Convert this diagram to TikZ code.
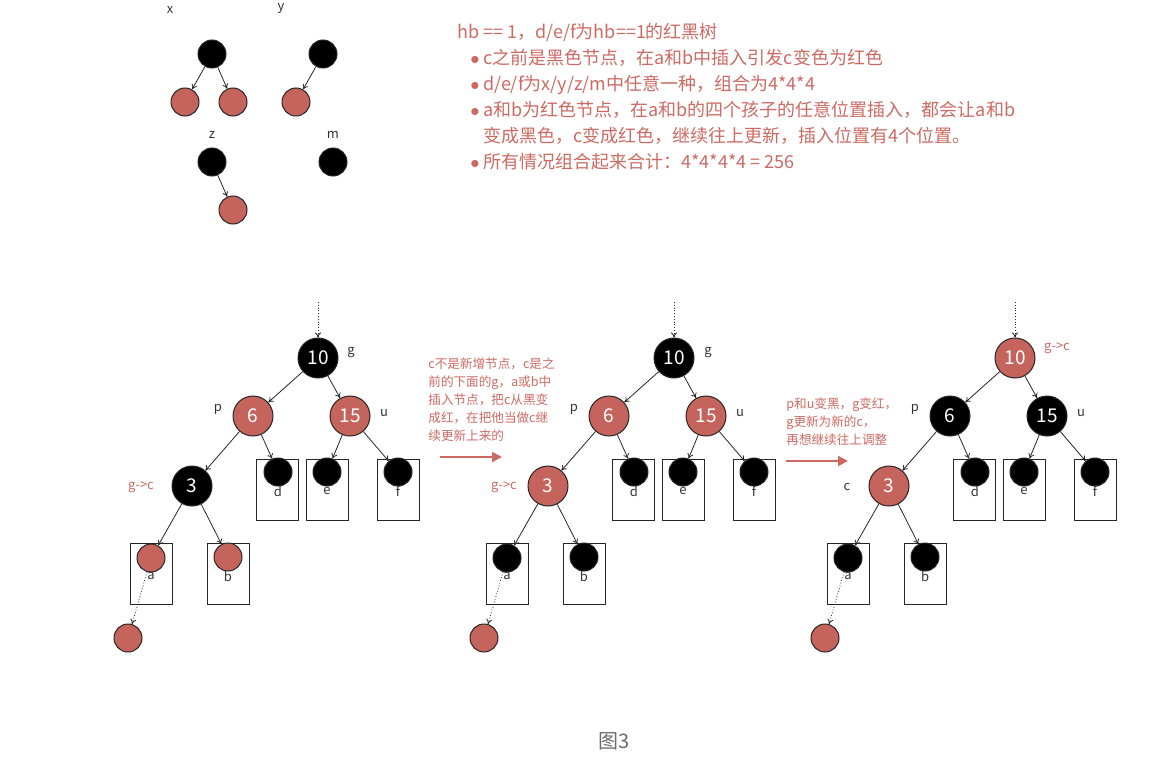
\documentclass[tikz,border=0pt]{standalone}
\usepackage{fontspec}
\setmainfont{Noto Sans CJK SC}
\usepackage{xcolor}
\usepackage{tikz}
\usetikzlibrary{positioning, arrows.meta}
\definecolor{nodered}{HTML}{C5645C}
\definecolor{notered}{HTML}{CC6A62}
\definecolor{capgray}{HTML}{6B6B6B}
\newcommand{\bulitem}{\hspace*{6.5pt}\makebox[6.5pt][l]{$\bullet$}}

\begin{document}
\begin{tikzpicture}[x=0.5pt, y=-0.5pt,
    bignode/.style={circle, draw=black!85, line width=0.5pt, minimum size=20pt, inner sep=0pt,
                    text=white, font=\fontsize{9.5}{10}\selectfont},
    leafnode/.style={circle, draw=black!85, line width=0.5pt, minimum size=14pt, inner sep=0pt},
    leafbox/.style={draw=black!85, line width=0.5pt, minimum width=21pt, minimum height=30.5pt, inner sep=0pt},
    boxtag/.style={font=\fontsize{6.5}{7}\selectfont, text=black!80, inner sep=0pt},
    sidetag/.style={font=\fontsize{6.5}{7}\selectfont, text=black!80, inner sep=0pt},
    redtag/.style={font=\fontsize{6.5}{7}\selectfont, text=notered, inner sep=0pt},
    treearrow/.style={-{To[length=2.5pt, width=3pt]}, line width=0.4pt, black!85},
    dotarrow/.style={treearrow, densely dotted},
    notearrow/.style={-{Triangle[length=5pt, width=5pt]}, line width=1pt, notered},
    notetext/.style={font=\fontsize{6.3}{9}\selectfont, text=notered, align=left, anchor=north west, inner sep=0pt}]
  \useasboundingbox (0,0) rectangle (1149,765);

  % the four small trees of hb == 1
  \node[sidetag] (xlbl) at (170,10) {x};
  \node[sidetag] (ylbl) at (281,8) {y};
  \node[sidetag] (zlbl) at (212,135) {z};
  \node[sidetag] (mlbl) at (333,135) {m};
  \node[leafnode, fill=black] (xtop) at (212,54) {};
  \node[leafnode, fill=nodered] (xleft) at (185,102) {};
  \node[leafnode, fill=nodered] (xright) at (233,102) {};
  \node[leafnode, fill=black] (ytop) at (323,54) {};
  \node[leafnode, fill=nodered] (yleft) at (296,102) {};
  \node[leafnode, fill=black] (ztop) at (212,162) {};
  \node[leafnode, fill=nodered] (zright) at (233,210) {};
  \node[leafnode, fill=black] (mtop) at (333,162) {};
  \draw[treearrow] (xtop) -- (xleft);
  \draw[treearrow] (xtop) -- (xright);
  \draw[treearrow] (ytop) -- (yleft);
  \draw[treearrow] (ztop) -- (zright);

  % notes
  \node[font=\fontsize{9}{13}\selectfont, text=notered, align=left, anchor=north west, inner sep=0pt] (hbnote) at (457,23) {%
    hb == 1，d/e/f为hb==1的红黑树\\
    \bulitem c之前是黑色节点，在a和b中插入引发c变色为红色\\
    \bulitem d/e/f为x/y/z/m中任意一种，组合为4*4*4\\
    \bulitem a和b为红色节点，在a和b的四个孩子的任意位置插入，都会让a和b\\
    \hspace*{13pt}变成黑色，c变成红色，继续往上更新，插入位置有4个位置。\\
    \bulitem 所有情况组合起来合计：4*4*4*4 = 256};

  % three steps
  \foreach \t/\dx/\cg/\cp/\cc/\cab in {1/0/black/nodered/black/nodered,
      2/356/black/nodered/nodered/black, 3/697/nodered/black/nodered/black}{
    \node[leafbox] (bd\t) at (277+\dx,490) {};
    \node[leafbox] (be\t) at (327+\dx,490) {};
    \node[leafbox] (bf\t) at (398+\dx,490) {};
    \node[leafbox] (ba\t) at (151+\dx,574) {};
    \node[leafbox] (bb\t) at (228+\dx,574) {};
    \node[boxtag] (ld\t) at (278+\dx,491) {d};
    \node[boxtag] (le\t) at (327+\dx,491) {e};
    \node[boxtag] (lf\t) at (398+\dx,491) {f};
    \node[boxtag] (la\t) at (151+\dx,576) {a};
    \node[boxtag] (lb\t) at (228+\dx,576) {b};
    \node[bignode, fill=\cg] (g\t) at (318+\dx,358) {10};
    \node[bignode, fill=\cp] (p\t) at (253+\dx,416) {6};
    \node[bignode, fill=\cp] (u\t) at (350+\dx,416) {15};
    \node[bignode, fill=\cc] (c\t) at (192+\dx,486) {3};
    \node[leafnode, fill=black] (d\t) at (278+\dx,472) {};
    \node[leafnode, fill=black] (e\t) at (327+\dx,472) {};
    \node[leafnode, fill=black] (f\t) at (398+\dx,472) {};
    \node[leafnode, fill=\cab] (a\t) at (151+\dx,558) {};
    \node[leafnode, fill=\cab] (b\t) at (228+\dx,557) {};
    \node[leafnode, fill=nodered] (n\t) at (128+\dx,638) {};
    \coordinate (top\t) at (318+\dx,302);
    \node[sidetag] (pt\t) at (218+\dx,409) {p};
    \node[sidetag] (ut\t) at (384+\dx,413) {u};
    \draw[dotarrow] (top\t) -- (g\t);
    \draw[treearrow] (g\t) -- (p\t);
    \draw[treearrow] (g\t) -- (u\t);
    \draw[treearrow] (p\t) -- (c\t);
    \draw[treearrow] (p\t) -- (d\t);
    \draw[treearrow] (u\t) -- (e\t);
    \draw[treearrow] (u\t) -- (f\t);
    \draw[treearrow] (c\t) -- (a\t);
    \draw[treearrow] (c\t) -- (b\t);
    \draw[dotarrow] (a\t) -- (n\t);
  }

  % tags that differ per step
  \node[sidetag] (gt1) at (351,352) {g};
  \node[sidetag] (gt2) at (708,352) {g};
  \node[redtag] (gt3) at (1057,348) {g->c};
  \node[redtag] (ct1) at (141,487) {g->c};
  \node[redtag] (ct2) at (504,487) {g->c};
  \node[sidetag] (ct3) at (847,487) {c};

  % step notes
  \node[notetext] (stepnote1) at (428,357) {c不是新增节点，c是之\\前的下面的g，a或b中\\插入节点，把c从黑变\\成红，在把他当做c继\\续更新上来的};
  \coordinate (s1) at (440,457);
  \coordinate (e1) at (502,457);
  \draw[notearrow] (s1) -- (e1);
  \node[notetext] (stepnote2) at (786,397) {p和u变黑，g变红，\\g更新为新的c，\\再想继续往上调整};
  \coordinate (s2) at (786,461);
  \coordinate (e2) at (848,461);
  \draw[notearrow] (s2) -- (e2);

  \node[font=\fontsize{10}{12}\selectfont, text=capgray] (cap) at (614,741) {图3};
\end{tikzpicture}
\end{document}
